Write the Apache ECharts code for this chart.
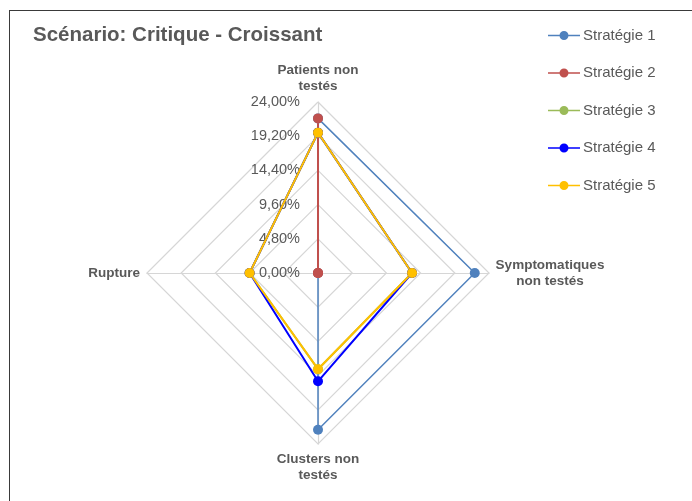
<!DOCTYPE html>
<html>
<head>
<meta charset="utf-8">
<script src="https://cdn.jsdelivr.net/npm/echarts@6/dist/echarts.min.js"></script>
<style>
  html, body { margin: 0; padding: 0; background: #fff; }
  #frame { position: absolute; left: 9px; top: 10px; width: 700px; height: 500px;
           border-left: 1px solid #3a3a3a; border-top: 1px solid #3a3a3a; }
  #chart { position: absolute; left: 0; top: 0; width: 692px; height: 501px; }
</style>
</head>
<body>
<div id="frame"></div>
<div id="chart"></div>
<script>
// axes of the radar, echarts goes counter-clockwise from the top
const indicators = ['Patients non\ntestés', 'Rupture', 'Clusters non\ntestés', 'Symptomatiques\nnon testés']
const seriesNames = ['Stratégie 1', 'Stratégie 2', 'Stratégie 3', 'Stratégie 4', 'Stratégie 5']
const colors = ['#4F81BD', '#C0504D', '#9BBB59', '#0000FF', '#FFC000']

// values in %, same order as indicators
const strat1 = [21.7, 0, 22.0, 22.0]
const strat2 = [21.7, 0, 0, 0]
const strat3 = [19.7, 9.6, 13.5, 13.2]
const strat4 = [19.7, 9.6, 15.2, 13.2]
const strat5 = [19.7, 9.6, 13.5, 13.2]
const values = [strat1, strat2, strat3, strat4, strat5]

const axisMax = 24
const grey = '#595959'
const legendIcon = 'path://M0,4.2H32V5.8H0Z M16,0.5A4.5,4.5 0 1,1 15.99,0.5Z'

const chart = echarts.init(document.getElementById('chart'))

const option = {
  animation: false,
  textStyle: { fontFamily: 'Liberation Sans' },
  title: {
    text: 'Scénario: Critique - Croissant',
    left: 28,
    top: 20,
    textStyle: { fontSize: 20.5, fontWeight: 'bold', color: grey, fontFamily: 'Liberation Sans' }
  },
  legend: {
    orient: 'vertical',
    left: 543,
    top: 23,
    itemGap: 22.5,
    itemWidth: 32,
    itemHeight: 10,
    icon: legendIcon,
    textStyle: { fontSize: 15, color: grey, padding: [0, 0, 0, -2] },
    data: seriesNames
  },
  radar: {
    center: [318, 273],
    radius: 171,
    startAngle: 90,
    shape: 'polygon',
    splitNumber: 5,
    axisNameGap: 7,
    axisName: {
      color: grey,
      fontSize: 13.5,
      fontWeight: 'bold',
      lineHeight: 16,
      formatter: name => {
        if (name.startsWith('Symptomatiques')) {
          return name.split('\n').map(s => '{c|' + s + '}').join('\n')
        }
        return name
      },
      rich: {
        c: { width: 108, align: 'center', color: grey, fontSize: 13.5, fontWeight: 'bold', lineHeight: 16 }
      }
    },
    splitLine: { lineStyle: { color: '#d6d6d6', width: 1.2 } },
    splitArea: { show: false },
    axisLine: { lineStyle: { color: '#d6d6d6', width: 1.2 } },
    axisLabel: { show: false },
    indicator: indicators.map((name, i) => {
      const ind = { name: name, min: 0, max: axisMax }
      if (i === 0) {
        ind.axisLabel = {
          show: true,
          color: grey,
          fontSize: 14.5,
          margin: 18,
          formatter: v => v.toFixed(2).replace('.', ',') + '%'
        }
      }
      return ind
    })
  },
  series: [{
    type: 'radar',
    symbol: 'circle',
    symbolSize: 10,
    data: seriesNames.map((name, i) => ({
      name: name,
      value: values[i],
      itemStyle: { color: colors[i] },
      lineStyle: { color: colors[i], width: i === 0 ? 1.5 : 2 }
    }))
  }]
}

chart.setOption(option)
</script>
</body>
</html>
